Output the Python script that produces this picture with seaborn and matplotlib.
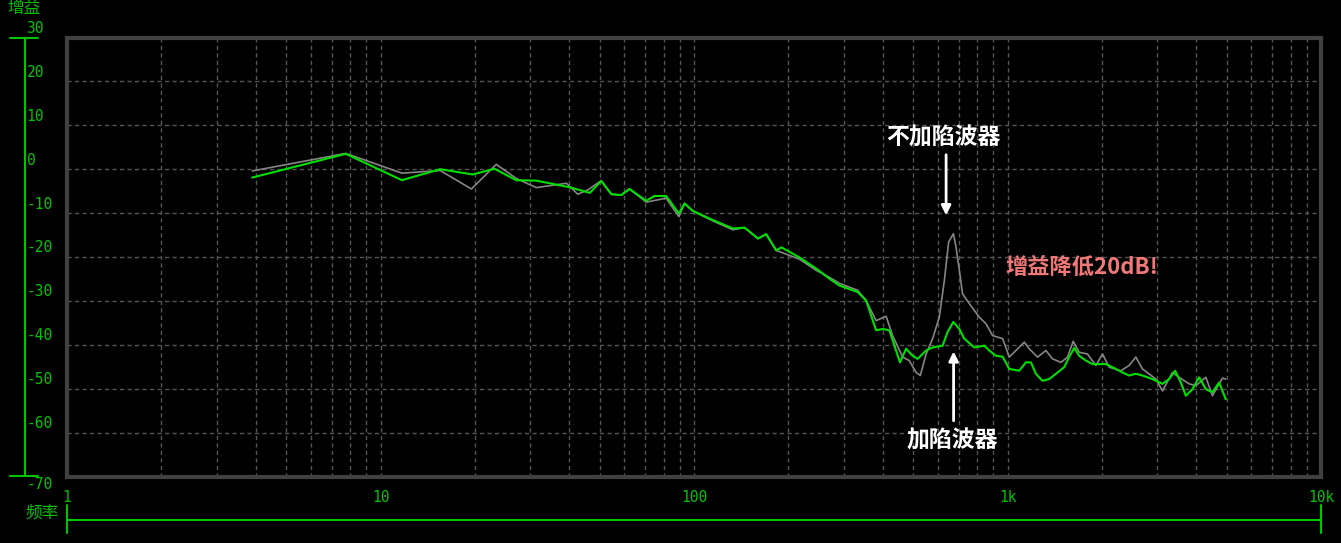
import numpy as np
import matplotlib
matplotlib.use('Agg')
import matplotlib.pyplot as plt
import matplotlib.transforms as mtransforms
from matplotlib.ticker import LogLocator, NullLocator
import seaborn as sns

# Frequency response
# gray = without notch filter, green = with notch filter
freq_off = [3.9, 7.75, 11.7, 15.5, 19.5, 23.4, 27.1, 31.4, 39.2, 42.6,
            45.9, 50.6, 54.5, 58.6, 62.3, 70.4, 81.5, 89.5, 93.3, 99.1,
            115, 133, 145, 160, 170, 183, 217, 245, 270, 291,
            333, 354, 381, 410, 430, 463, 486, 511, 527, 550,
            577, 606, 629, 649, 672, 685, 702, 719, 755, 813,
            854, 896, 965, 1013, 1064, 1131, 1173, 1247, 1326, 1392,
            1481, 1554, 1620, 1693, 1800, 1914, 2010, 2110, 2299, 2444,
            2567, 2695, 2973, 3121, 3358, 3527, 3796, 3988, 4292, 4505,
            4731, 4848, 4970]
gain_off = [-0.4, 3.6, -0.9, -0.3, -4.5, 1.1, -2.1, -4.2, -3.2, -5.7,
            -4.7, -2.6, -5.7, -5.9, -4.5, -7.5, -6.6, -10.8, -7.8, -9.5,
            -11.8, -13.8, -13.3, -15.8, -14.8, -18.5, -20.5, -23.0, -24.6, -26.0,
            -27.6, -29.9, -34.5, -33.5, -37.9, -42.8, -43.6, -46.3, -47.0, -42.1,
            -38.6, -33.7, -25.3, -16.6, -14.7, -17.7, -23.0, -28.4, -30.6, -33.7,
            -35.2, -37.9, -38.6, -42.8, -41.3, -39.4, -40.9, -42.8, -41.3, -43.2,
            -44.0, -42.8, -39.2, -41.7, -42.1, -44.7, -42.1, -45.1, -45.9, -44.7,
            -42.8, -45.5, -47.8, -50.5, -46.3, -47.4, -48.9, -49.3, -47.4, -51.6,
            -48.9, -47.6, -47.8]

freq_on = [3.9, 7.75, 11.7, 15.5, 19.7, 23.1, 27.1, 31.4, 40.1, 46.5,
           50.6, 54.5, 58.6, 62.3, 70.4, 74.8, 81.5, 89.5, 93.3, 99.1,
           115, 133, 145, 160, 170, 183, 190, 217, 245, 270,
           291, 333, 354, 381, 400, 420, 436, 454, 475, 498,
           517, 550, 577, 621, 644, 672, 702, 728, 784, 843,
           875, 919, 965, 1013, 1090, 1145, 1188, 1232, 1293, 1359,
           1427, 1517, 1573, 1633, 1693, 1779, 1867, 2060, 2162, 2326,
           2444, 2567, 2695, 2900, 3121, 3279, 3426, 3573, 3706, 3890,
           4086, 4292, 4505, 4731, 4970]
gain_on = [-1.9, 3.5, -2.5, 0.0, -1.2, 0.1, -2.5, -2.6, -4.1, -5.4,
           -2.7, -5.7, -5.9, -4.5, -7.2, -6.1, -6.1, -10.1, -7.8, -9.5,
           -11.6, -13.5, -13.3, -15.8, -14.8, -18.5, -17.8, -20.1, -22.6, -24.9,
           -26.5, -28.0, -29.9, -36.7, -36.4, -36.7, -40.2, -44.0, -40.9, -42.5,
           -43.2, -41.3, -40.6, -40.2, -37.1, -34.8, -36.4, -38.6, -40.6, -40.2,
           -41.3, -42.5, -42.7, -45.5, -45.9, -44.0, -44.0, -46.6, -48.2, -47.8,
           -46.6, -45.1, -42.8, -40.7, -42.5, -43.6, -44.4, -44.4, -45.1, -46.3,
           -47.0, -46.6, -47.0, -47.8, -48.9, -47.8, -45.9, -48.6, -51.6, -50.1,
           -47.4, -50.1, -50.8, -48.6, -52.4]

y_ticks = [30, 20, 10, 0, -10, -20, -30, -40, -50, -60, -70]
y_labels = ['30', '20', '10', '0', '-10', '-20', '-30', '-40', '-50', '-60', '-70']
x_ticks = [1, 10, 100, 1000, 10000]
x_labels = ['1', '10', '100', '1k', '10k']

sns.set_style('dark', rc={'axes.facecolor': 'black', 'figure.facecolor': 'black'})
plt.rcParams['font.family'] = ['Noto Sans CJK SC', 'DejaVu Sans']

GREEN = '#00c400'
W, H = 1341, 543
fig = plt.figure(figsize=(W / 100, H / 100), dpi=100, facecolor='black')


def box(x0, y0, x1, y1):
    # pixel box (from top-left) -> figure fraction rect
    return [x0 / W, 1 - y1 / H, (x1 - x0) / W, (y1 - y0) / H]


# main plot area
ax = fig.add_axes(box(67, 37.5, 1321, 476.5))
ax.set_facecolor('black')
ax.set_xscale('log')
ax.set_xlim(1, 10000)
ax.set_ylim(-70, 30)

sns.lineplot(x=freq_off, y=gain_off, ax=ax, color='#858585', lw=1.2,
             estimator=None, sort=False)
sns.lineplot(x=freq_on, y=gain_on, ax=ax, color='#00e000', lw=1.5,
             estimator=None, sort=False)

ax.xaxis.set_major_locator(LogLocator(base=10))
ax.xaxis.set_minor_locator(LogLocator(base=10, subs=np.arange(2, 10)))
ax.set_yticks(y_ticks[1:-1])
ax.grid(which='both', color='#555555', ls=(0, (3, 2.4)), lw=1.0)
ax.tick_params(which='both', length=0, labelbottom=False, labelleft=False)
ax.set_xlabel('')
ax.set_ylabel('')
for s in ax.spines.values():
    s.set_visible(True)
    s.set_color('#404040')
    s.set_linewidth(3)

# annotations
arrow = dict(arrowstyle='-|>', color='white', lw=2, mutation_scale=14,
             shrinkA=0, shrinkB=0)
ax.annotate('', xy=(637, -10.5), xytext=(637, 3.3), arrowprops=arrow)
ax.text(624, 7.1, '不加陷波器', color='white', fontsize=16.5, fontweight='bold',
        ha='center', va='center')
ax.annotate('', xy=(673, -41.5), xytext=(673, -57.3), arrowprops=arrow)
ax.text(666, -61.9, '加陷波器', color='white', fontsize=16.5, fontweight='bold',
        ha='center', va='center')
ax.text(983, -22.3, '增益降低20dB!', color='#f07878', fontsize=16, fontweight='bold',
        ha='left', va='center')

# left gain axis
ax_l = fig.add_axes(box(10, 37.5, 38, 476.5))
ax_l.set_facecolor('none')
ax_l.set_ylim(-70, 30)
ax_l.set_xlim(0, 1)
for k in ['top', 'right', 'bottom']:
    ax_l.spines[k].set_visible(False)
ax_l.spines['left'].set_position(('axes', 15 / 28))
ax_l.spines['left'].set_color(GREEN)
ax_l.spines['left'].set_linewidth(1.5)
ax_l.set_xticks([])
ax_l.set_yticks(y_ticks[1:-1])
ax_l.tick_params(axis='y', direction='in', length=5.25, width=1.5, color=GREEN,
                 labelleft=False)
ax_l.axhline(30, color=GREEN, lw=1.5, clip_on=False)
ax_l.axhline(-70, color=GREEN, lw=1.5, clip_on=False)
for v, lab in zip(y_ticks, y_labels):
    dy = -8 if v == -70 else 9
    tr = ax_l.get_yaxis_transform() + mtransforms.ScaledTranslation(0, dy / 100, fig.dpi_scale_trans)
    ax_l.text(16.5 / 28, v, lab, transform=tr, color=GREEN, fontsize=10.5,
              family=['DejaVu Sans Mono'], ha='left', va='center', clip_on=False)

# bottom frequency axis
ax_b = fig.add_axes(box(67, 505, 1321, 533))
ax_b.set_facecolor('none')
ax_b.set_xscale('log')
ax_b.set_xlim(1, 10000)
ax_b.set_ylim(0, 1)
for k in ['top', 'right', 'left']:
    ax_b.spines[k].set_visible(False)
ax_b.spines['bottom'].set_position(('axes', 13 / 28))
ax_b.spines['bottom'].set_color(GREEN)
ax_b.spines['bottom'].set_linewidth(1.5)
ax_b.set_yticks([])
ax_b.set_xticks(x_ticks[1:-1])
ax_b.xaxis.set_minor_locator(NullLocator())
ax_b.tick_params(axis='x', direction='in', length=5.25, width=1.5, color=GREEN,
                 labelbottom=False)
ax_b.axvline(1, color=GREEN, lw=1.5, clip_on=False)
ax_b.axvline(10000, color=GREEN, lw=1.5, clip_on=False)
for v, lab in zip(x_ticks, x_labels):
    ax_b.text(v, (533 - 497) / 28, lab, transform=ax_b.get_xaxis_transform(),
              color=GREEN, fontsize=10.5, family=['DejaVu Sans Mono'],
              ha='center', va='center', clip_on=False)

fig.text(23.5 / W, 1 - 8 / H, '增益', color=GREEN, fontsize=12, ha='center', va='center')
fig.text(42 / W, 1 - 513 / H, '频率', color=GREEN, fontsize=12, ha='center', va='center')

fig.savefig('out.png', dpi=100, facecolor='black')
